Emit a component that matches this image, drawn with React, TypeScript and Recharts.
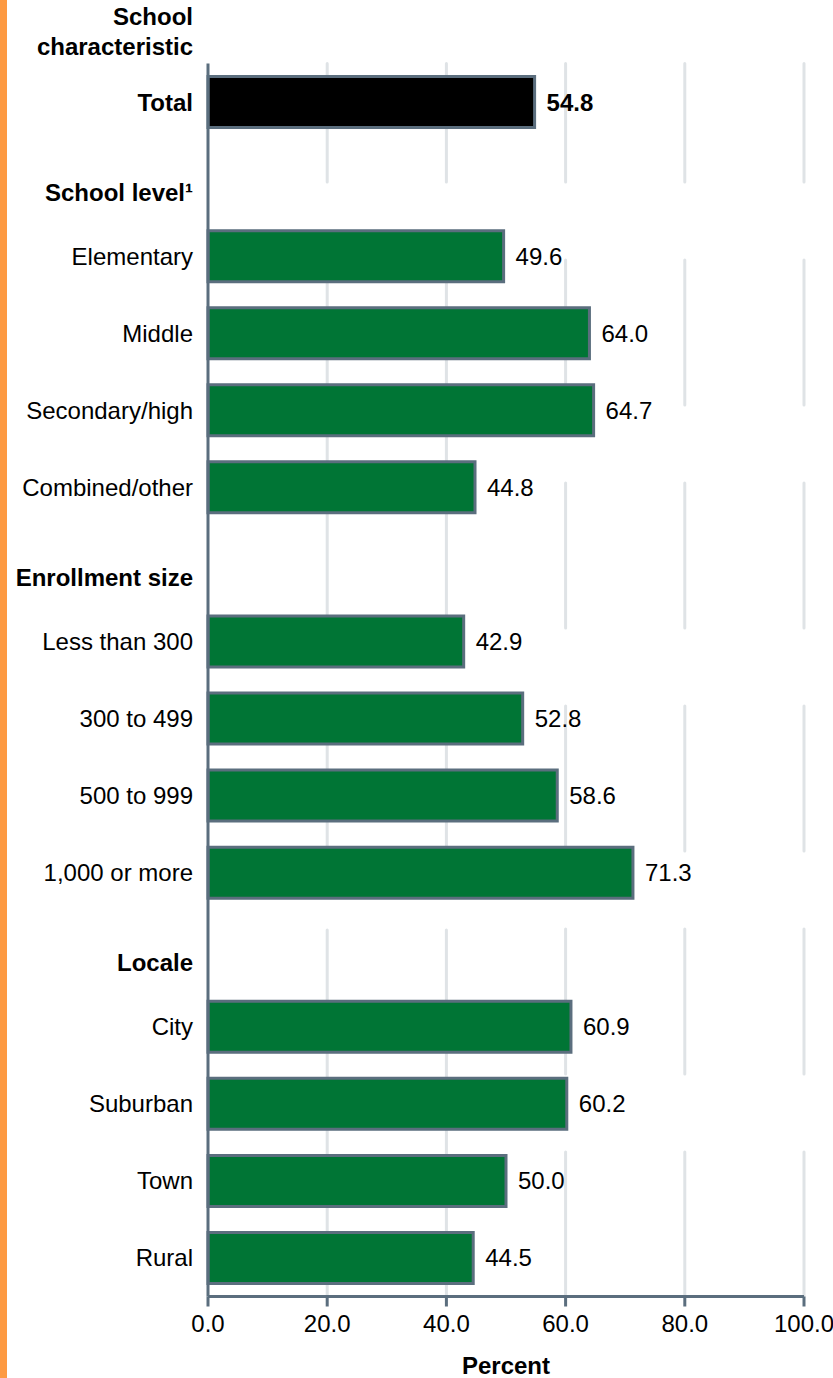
import React from "react";
import {
  BarChart,
  Bar,
  XAxis,
  YAxis,
  CartesianGrid,
  Cell,
  LabelList,
  Label,
} from "recharts";

const categories = [
  "Total",
  "School level¹",
  "Elementary",
  "Middle",
  "Secondary/high",
  "Combined/other",
  "Enrollment size",
  "Less than 300",
  "300 to 499",
  "500 to 999",
  "1,000 or more",
  "Locale",
  "City",
  "Suburban",
  "Town",
  "Rural",
];

const percentValues: (number | null)[] = [
  54.8, null, 49.6, 64.0, 64.7, 44.8, null, 42.9, 52.8, 58.6, 71.3, null, 60.9,
  60.2, 50.0, 44.5,
];

const headerRows = ["School level¹", "Enrollment size", "Locale"];
const boldRows = ["Total"];
const xTicks = [0, 20, 40, 60, 80, 100];

const data = categories.map((c, i) => ({ name: c, value: percentValues[i] }));

const FONT = "'Liberation Sans', Arial, Helvetica, sans-serif";
const AXIS = "#5b6e7e";
const GREEN = "#007535";
const GRID = "#dfe3e6";

const YTick = (props: any) => {
  const { x, y, payload } = props;
  const name = payload.value as string;
  const isHeader = headerRows.includes(name);
  const bold = isHeader || boldRows.includes(name);
  return (
    <text
      x={x}
      y={y + (isHeader ? 13 : 0)}
      dy="0.355em"
      textAnchor="end"
      fontFamily={FONT}
      fontSize={24}
      fontWeight={bold ? "bold" : "normal"}
      fill="#000"
    >
      {name}
    </text>
  );
};

const ValueLabel = (props: any) => {
  const { x, y, width, height, value, index } = props;
  if (value === null || value === undefined) return null;
  const bold = boldRows.includes(categories[index]);
  return (
    <text
      x={x + width + 12}
      y={y + height / 2}
      dy="0.355em"
      textAnchor="start"
      fontFamily={FONT}
      fontSize={24}
      fontWeight={bold ? "bold" : "normal"}
      fill="#000"
    >
      {Number(value).toFixed(1)}
    </text>
  );
};

const gridGen = (vals: number[]) => (props: any) => {
  const s = props?.xAxis?.scale;
  if (s && typeof s === "function") return vals.map((v) => s(v));
  if (s && typeof s.map === "function") return vals.map((v) => s.map(v));
  const off = props.offset;
  return vals.map((v) => off.left + (v / 100) * off.width);
};

export default function App() {
  return (
    <div
      style={{
        position: "absolute",
        left: 0,
        top: 0,
        width: 833,
        height: 1378,
        background: "#fff",
      }}
    >
      <div
        style={{
          position: "absolute",
          left: 0,
          top: 0,
          width: 7,
          height: 1378,
          background: "#fd9a42",
        }}
      />
      <div
        style={{
          position: "absolute",
          left: 0,
          top: 2,
          width: 193,
          textAlign: "right",
          fontFamily: FONT,
          fontSize: 24,
          fontWeight: "bold",
          lineHeight: "30px",
          color: "#000",
        }}
      >
        School
        <br />
        characteristic
      </div>
      <div style={{ position: "absolute", left: 0, top: 0 }}>
        <BarChart
          width={833}
          height={1378}
          data={data}
          layout="vertical"
          margin={{ top: 63.5, right: 29, bottom: 21.5, left: 0 }}
          barCategoryGap={26}
        >
          <CartesianGrid
            horizontal={false}
            vertical={true}
            stroke={GRID}
            strokeWidth={3}
            strokeLinecap="round"
            strokeDasharray="118.5 78 368 78 146 78 367"
            verticalCoordinatesGenerator={gridGen([20, 40])}
          />
          <CartesianGrid
            horizontal={false}
            vertical={true}
            stroke={GRID}
            strokeWidth={3}
            strokeLinecap="round"
            strokeDasharray="118.5 78 145 78 145 78 145 78 145 78 145"
            verticalCoordinatesGenerator={gridGen([60, 80, 100])}
          />
          <XAxis
            type="number"
            domain={[0, 100]}
            ticks={xTicks}
            interval={0}
            height={60}
            tickFormatter={(v: number) => v.toFixed(1)}
            axisLine={{ stroke: AXIS, strokeWidth: 3 }}
            tickLine={{ stroke: AXIS, strokeWidth: 3 }}
            tickSize={10}
            tickMargin={8}
            tick={{ fontFamily: FONT, fontSize: 24, fill: "#000" }}
          >
            <Label
              value="Percent"
              position="bottom"
              offset={0}
              style={{
                fontFamily: FONT,
                fontSize: 24,
                fontWeight: "bold",
                fill: "#000",
              }}
            />
          </XAxis>
          <YAxis
            type="category"
            dataKey="name"
            width={208}
            interval={0}
            axisLine={{ stroke: AXIS, strokeWidth: 3 }}
            tickLine={false}
            tickSize={0}
            tickMargin={15}
            tick={<YTick />}
          />
          <Bar
            dataKey="value"
            barSize={51}
            stroke={AXIS}
            strokeWidth={3}
            isAnimationActive={false}
          >
            {data.map((d, i) => (
              <Cell
                key={i}
                fill={boldRows.includes(d.name) ? "#000000" : GREEN}
              />
            ))}
            <LabelList dataKey="value" content={<ValueLabel />} />
          </Bar>
        </BarChart>
      </div>
    </div>
  );
}
